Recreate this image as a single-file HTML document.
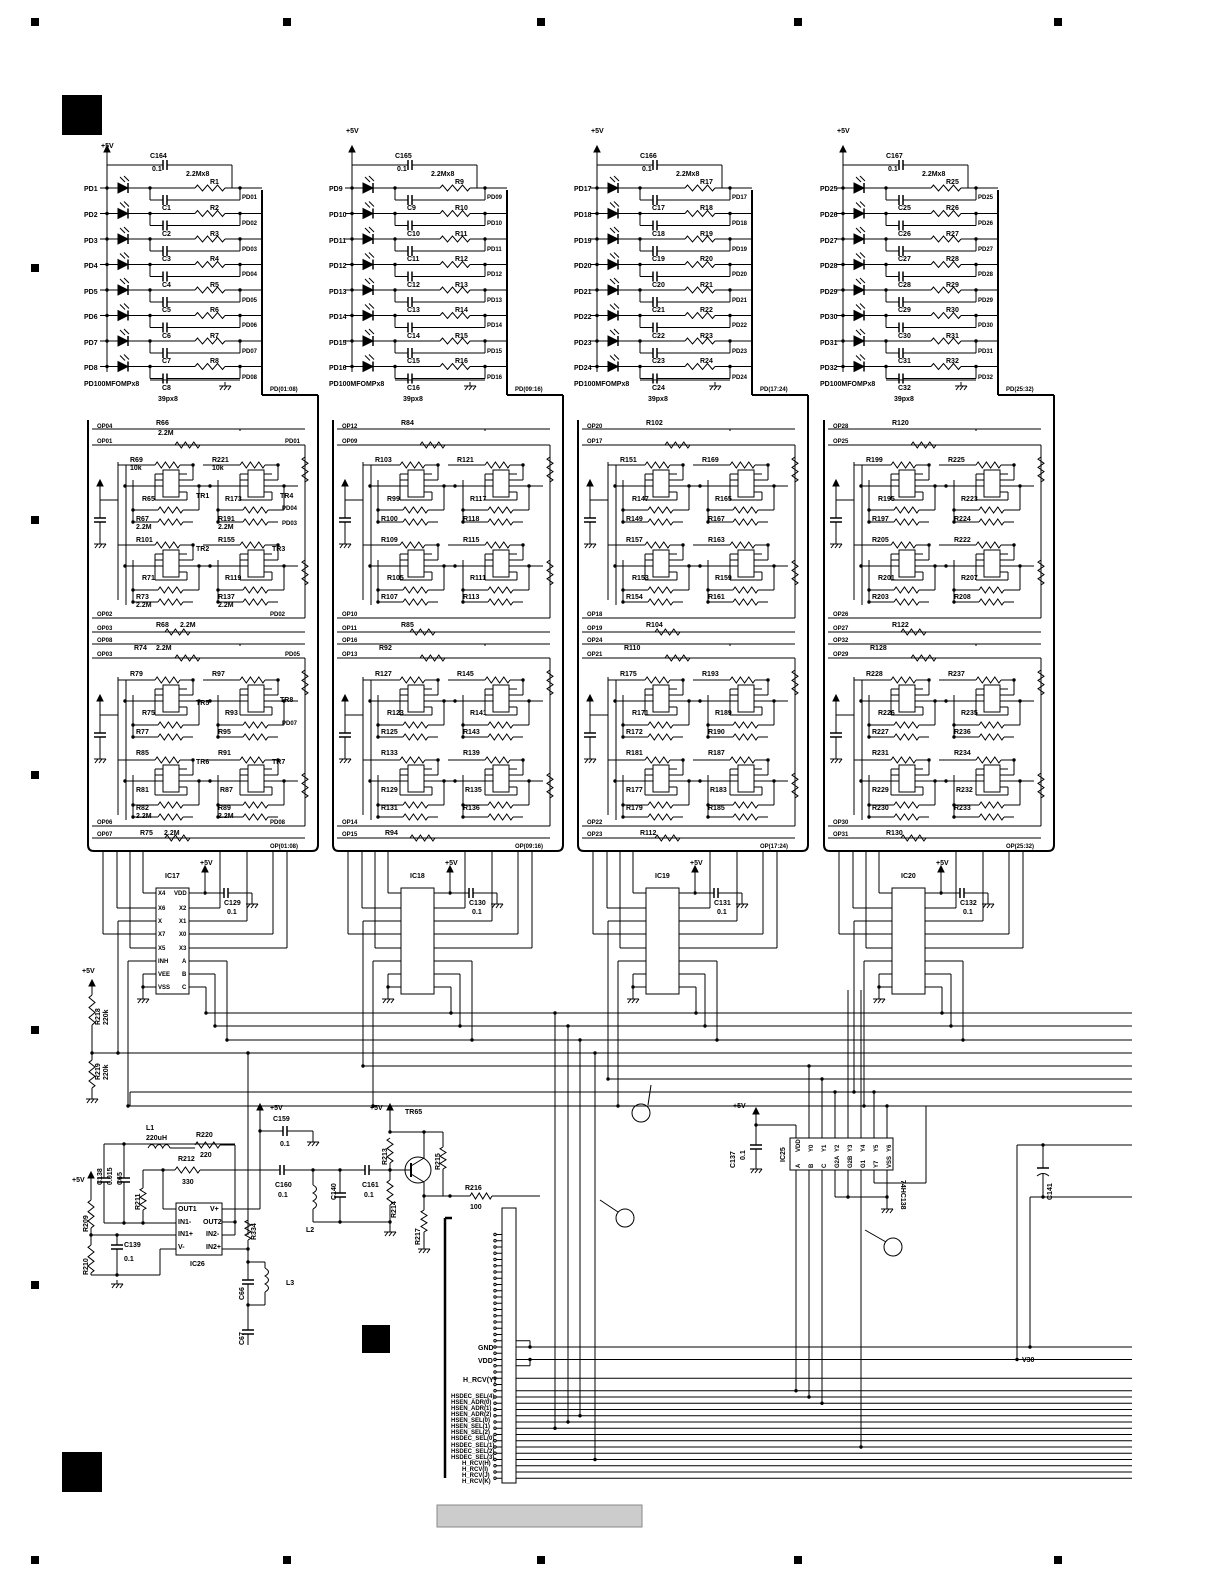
<!DOCTYPE html>
<html><head><meta charset="utf-8"><style>
html,body{margin:0;padding:0;background:#fff}
svg{display:block}
text{font-family:"Liberation Sans",sans-serif;font-size:7px;fill:#000;stroke:none;font-weight:bold}
.s{font-size:6px}
</style></head><body>
<svg id="s" width="1225" height="1585" viewBox="0 0 1225 1585" xmlns="http://www.w3.org/2000/svg" stroke="#000" fill="none" stroke-width="1">
<g id="geo"></g>
<g fill="#000" stroke="none">
<rect x="31" y="18" width="8" height="8"/><rect x="283" y="18" width="8" height="8"/><rect x="537" y="18" width="8" height="8"/><rect x="794" y="18" width="8" height="8"/><rect x="1054" y="18" width="8" height="8"/>
<rect x="31" y="1556" width="8" height="8"/><rect x="283" y="1556" width="8" height="8"/><rect x="537" y="1556" width="8" height="8"/><rect x="794" y="1556" width="8" height="8"/><rect x="1054" y="1556" width="8" height="8"/>
<rect x="31" y="264" width="8" height="8"/><rect x="31" y="516" width="8" height="8"/><rect x="31" y="771" width="8" height="8"/><rect x="31" y="1026" width="8" height="8"/><rect x="31" y="1281" width="8" height="8"/>
<rect x="62" y="95" width="40" height="40"/><rect x="62" y="1452" width="40" height="40"/><rect x="362" y="1325" width="28" height="28"/>
</g>
<rect x="437" y="1505" width="205" height="22" fill="#ccc" stroke="#888"/>

<g id="col1">
<text x="101" y="148">+5V</text><text x="150" y="158">C164</text><text x="152" y="171">0.1</text><text x="186" y="176">2.2Mx8</text>
<text x="84" y="191">PD1</text><text x="84" y="217">PD2</text><text x="84" y="243">PD3</text><text x="84" y="268">PD4</text><text x="84" y="294">PD5</text><text x="84" y="319">PD6</text><text x="84" y="345">PD7</text><text x="84" y="370">PD8</text>
<text x="210" y="184">R1</text><text x="210" y="210">R2</text><text x="210" y="236">R3</text><text x="210" y="261">R4</text><text x="210" y="287">R5</text><text x="210" y="312">R6</text><text x="210" y="338">R7</text><text x="210" y="363">R8</text>
<text x="162" y="210">C1</text><text x="162" y="236">C2</text><text x="162" y="261">C3</text><text x="162" y="287">C4</text><text x="162" y="312">C5</text><text x="162" y="338">C6</text><text x="162" y="363">C7</text><text x="162" y="390">C8</text>
<text class="s" x="242" y="199">PD01</text><text class="s" x="242" y="225">PD02</text><text class="s" x="242" y="251">PD03</text><text class="s" x="242" y="276">PD04</text><text class="s" x="242" y="302">PD05</text><text class="s" x="242" y="327">PD06</text><text class="s" x="242" y="353">PD07</text><text class="s" x="242" y="379">PD08</text>
<text x="84" y="386">PD100MFOMPx8</text><text x="158" y="401">39px8</text><text class="s" x="270" y="391">PD(01:08)</text>
<text class="s" x="97" y="428">OP04</text><text class="s" x="97" y="443">OP01</text><text class="s" x="97" y="616">OP02</text><text class="s" x="97" y="630">OP03</text>
<text class="s" x="97" y="642">OP08</text><text class="s" x="97" y="656">OP03</text><text class="s" x="97" y="824">OP06</text><text class="s" x="97" y="836">OP07</text>
<text class="s" x="285" y="443">PD01</text><text class="s" x="282" y="510">PD04</text><text class="s" x="282" y="525">PD03</text><text class="s" x="270" y="616">PD02</text>
<text class="s" x="285" y="656">PD05</text><text class="s" x="282" y="725">PD07</text><text class="s" x="270" y="824">PD08</text>
<text x="156" y="425">R66</text><text x="158" y="435">2.2M</text><text x="130" y="462">R69</text><text x="130" y="470">10k</text><text x="212" y="462">R221</text><text x="212" y="470">10k</text>
<text x="142" y="501">R65</text><text x="225" y="501">R173</text><text x="196" y="498">TR1</text><text x="280" y="498">TR4</text>
<text x="136" y="521">R67</text><text x="136" y="529">2.2M</text><text x="218" y="521">R191</text><text x="218" y="529">2.2M</text>
<text x="136" y="542">R101</text><text x="218" y="542">R155</text><text x="196" y="551">TR2</text><text x="272" y="551">TR3</text>
<text x="142" y="580">R71</text><text x="225" y="580">R119</text><text x="136" y="599">R73</text><text x="136" y="607">2.2M</text><text x="218" y="599">R137</text><text x="218" y="607">2.2M</text>
<text x="156" y="627">R68</text><text x="180" y="627">2.2M</text>
<text x="134" y="650">R74</text><text x="156" y="650">2.2M</text><text x="130" y="676">R79</text><text x="212" y="676">R97</text>
<text x="142" y="715">R75</text><text x="225" y="715">R93</text><text x="196" y="705">TR5</text><text x="280" y="702">TR8</text>
<text x="136" y="734">R77</text><text x="218" y="734">R95</text><text x="136" y="755">R85</text><text x="218" y="755">R91</text>
<text x="196" y="764">TR6</text><text x="272" y="764">TR7</text><text x="136" y="792">R81</text><text x="220" y="792">R87</text>
<text x="136" y="810">R82</text><text x="136" y="818">2.2M</text><text x="218" y="810">R89</text><text x="218" y="818">2.2M</text>
<text x="140" y="835">R75</text><text x="164" y="835">2.2M</text><text class="s" x="270" y="848">OP(01:08)</text>
<text x="165" y="878">IC17</text><text x="200" y="865">+5V</text><text x="224" y="905">C129</text><text x="227" y="914">0.1</text>
<text class="s" x="158" y="895">X4</text><text class="s" x="158" y="910">X6</text><text class="s" x="158" y="923">X</text><text class="s" x="158" y="936">X7</text><text class="s" x="158" y="950">X5</text><text class="s" x="158" y="963">INH</text><text class="s" x="158" y="976">VEE</text><text class="s" x="158" y="989">VSS</text>
<text class="s" x="174" y="895">VDD</text><text class="s" x="179" y="910">X2</text><text class="s" x="179" y="923">X1</text><text class="s" x="179" y="936">X0</text><text class="s" x="179" y="950">X3</text><text class="s" x="182" y="963">A</text><text class="s" x="182" y="976">B</text><text class="s" x="182" y="989">C</text>
</g>
<g transform="translate(245,0)">
<text x="101" y="133">+5V</text><text x="150" y="158">C165</text><text x="152" y="171">0.1</text><text x="186" y="176">2.2Mx8</text>
<text x="84" y="191">PD9</text><text x="84" y="217">PD10</text><text x="84" y="243">PD11</text><text x="84" y="268">PD12</text><text x="84" y="294">PD13</text><text x="84" y="319">PD14</text><text x="84" y="345">PD15</text><text x="84" y="370">PD16</text>
<text x="210" y="184">R9</text><text x="210" y="210">R10</text><text x="210" y="236">R11</text><text x="210" y="261">R12</text><text x="210" y="287">R13</text><text x="210" y="312">R14</text><text x="210" y="338">R15</text><text x="210" y="363">R16</text>
<text x="162" y="210">C9</text><text x="162" y="236">C10</text><text x="162" y="261">C11</text><text x="162" y="287">C12</text><text x="162" y="312">C13</text><text x="162" y="338">C14</text><text x="162" y="363">C15</text><text x="162" y="390">C16</text>
<text class="s" x="242" y="199">PD09</text><text class="s" x="242" y="225">PD10</text><text class="s" x="242" y="251">PD11</text><text class="s" x="242" y="276">PD12</text><text class="s" x="242" y="302">PD13</text><text class="s" x="242" y="327">PD14</text><text class="s" x="242" y="353">PD15</text><text class="s" x="242" y="379">PD16</text>
<text x="84" y="386">PD100MFOMPx8</text><text x="158" y="401">39px8</text><text class="s" x="270" y="391">PD(09:16)</text>
<text class="s" x="97" y="428">OP12</text><text class="s" x="97" y="443">OP09</text><text class="s" x="97" y="616">OP10</text><text class="s" x="97" y="630">OP11</text>
<text class="s" x="97" y="642">OP16</text><text class="s" x="97" y="656">OP13</text><text class="s" x="97" y="824">OP14</text><text class="s" x="97" y="836">OP15</text>
<text x="156" y="425">R84</text><text x="130" y="462">R103</text><text x="212" y="462">R121</text><text x="142" y="501">R99</text><text x="225" y="501">R117</text>
<text x="136" y="521">R100</text><text x="218" y="521">R118</text><text x="136" y="542">R109</text><text x="218" y="542">R115</text><text x="142" y="580">R105</text><text x="225" y="580">R111</text>
<text x="136" y="599">R107</text><text x="218" y="599">R113</text><text x="156" y="627">R85</text><text x="134" y="650">R92</text><text x="130" y="676">R127</text><text x="212" y="676">R145</text>
<text x="142" y="715">R123</text><text x="225" y="715">R141</text><text x="136" y="734">R125</text><text x="218" y="734">R143</text><text x="136" y="755">R133</text><text x="218" y="755">R139</text>
<text x="136" y="792">R129</text><text x="220" y="792">R135</text><text x="136" y="810">R131</text><text x="218" y="810">R136</text><text x="140" y="835">R94</text><text class="s" x="270" y="848">OP(09:16)</text>
<text x="165" y="878">IC18</text><text x="200" y="865">+5V</text><text x="224" y="905">C130</text><text x="227" y="914">0.1</text>
</g>
<g transform="translate(490,0)">
<text x="101" y="133">+5V</text><text x="150" y="158">C166</text><text x="152" y="171">0.1</text><text x="186" y="176">2.2Mx8</text>
<text x="84" y="191">PD17</text><text x="84" y="217">PD18</text><text x="84" y="243">PD19</text><text x="84" y="268">PD20</text><text x="84" y="294">PD21</text><text x="84" y="319">PD22</text><text x="84" y="345">PD23</text><text x="84" y="370">PD24</text>
<text x="210" y="184">R17</text><text x="210" y="210">R18</text><text x="210" y="236">R19</text><text x="210" y="261">R20</text><text x="210" y="287">R21</text><text x="210" y="312">R22</text><text x="210" y="338">R23</text><text x="210" y="363">R24</text>
<text x="162" y="210">C17</text><text x="162" y="236">C18</text><text x="162" y="261">C19</text><text x="162" y="287">C20</text><text x="162" y="312">C21</text><text x="162" y="338">C22</text><text x="162" y="363">C23</text><text x="162" y="390">C24</text>
<text class="s" x="242" y="199">PD17</text><text class="s" x="242" y="225">PD18</text><text class="s" x="242" y="251">PD19</text><text class="s" x="242" y="276">PD20</text><text class="s" x="242" y="302">PD21</text><text class="s" x="242" y="327">PD22</text><text class="s" x="242" y="353">PD23</text><text class="s" x="242" y="379">PD24</text>
<text x="84" y="386">PD100MFOMPx8</text><text x="158" y="401">39px8</text><text class="s" x="270" y="391">PD(17:24)</text>
<text class="s" x="97" y="428">OP20</text><text class="s" x="97" y="443">OP17</text><text class="s" x="97" y="616">OP18</text><text class="s" x="97" y="630">OP19</text>
<text class="s" x="97" y="642">OP24</text><text class="s" x="97" y="656">OP21</text><text class="s" x="97" y="824">OP22</text><text class="s" x="97" y="836">OP23</text>
<text x="156" y="425">R102</text><text x="130" y="462">R151</text><text x="212" y="462">R169</text><text x="142" y="501">R147</text><text x="225" y="501">R165</text>
<text x="136" y="521">R149</text><text x="218" y="521">R167</text><text x="136" y="542">R157</text><text x="218" y="542">R163</text><text x="142" y="580">R153</text><text x="225" y="580">R159</text>
<text x="136" y="599">R154</text><text x="218" y="599">R161</text><text x="156" y="627">R104</text><text x="134" y="650">R110</text><text x="130" y="676">R175</text><text x="212" y="676">R193</text>
<text x="142" y="715">R171</text><text x="225" y="715">R189</text><text x="136" y="734">R172</text><text x="218" y="734">R190</text><text x="136" y="755">R181</text><text x="218" y="755">R187</text>
<text x="136" y="792">R177</text><text x="220" y="792">R183</text><text x="136" y="810">R179</text><text x="218" y="810">R185</text><text x="150" y="835">R112</text><text class="s" x="270" y="848">OP(17:24)</text>
<text x="165" y="878">IC19</text><text x="200" y="865">+5V</text><text x="224" y="905">C131</text><text x="227" y="914">0.1</text>
</g>
<g transform="translate(736,0)">
<text x="101" y="133">+5V</text><text x="150" y="158">C167</text><text x="152" y="171">0.1</text><text x="186" y="176">2.2Mx8</text>
<text x="84" y="191">PD25</text><text x="84" y="217">PD26</text><text x="84" y="243">PD27</text><text x="84" y="268">PD28</text><text x="84" y="294">PD29</text><text x="84" y="319">PD30</text><text x="84" y="345">PD31</text><text x="84" y="370">PD32</text>
<text x="210" y="184">R25</text><text x="210" y="210">R26</text><text x="210" y="236">R27</text><text x="210" y="261">R28</text><text x="210" y="287">R29</text><text x="210" y="312">R30</text><text x="210" y="338">R31</text><text x="210" y="363">R32</text>
<text x="162" y="210">C25</text><text x="162" y="236">C26</text><text x="162" y="261">C27</text><text x="162" y="287">C28</text><text x="162" y="312">C29</text><text x="162" y="338">C30</text><text x="162" y="363">C31</text><text x="162" y="390">C32</text>
<text class="s" x="242" y="199">PD25</text><text class="s" x="242" y="225">PD26</text><text class="s" x="242" y="251">PD27</text><text class="s" x="242" y="276">PD28</text><text class="s" x="242" y="302">PD29</text><text class="s" x="242" y="327">PD30</text><text class="s" x="242" y="353">PD31</text><text class="s" x="242" y="379">PD32</text>
<text x="84" y="386">PD100MFOMPx8</text><text x="158" y="401">39px8</text><text class="s" x="270" y="391">PD(25:32)</text>
<text class="s" x="97" y="428">OP28</text><text class="s" x="97" y="443">OP25</text><text class="s" x="97" y="616">OP26</text><text class="s" x="97" y="630">OP27</text>
<text class="s" x="97" y="642">OP32</text><text class="s" x="97" y="656">OP29</text><text class="s" x="97" y="824">OP30</text><text class="s" x="97" y="836">OP31</text>
<text x="156" y="425">R120</text><text x="130" y="462">R199</text><text x="212" y="462">R225</text><text x="142" y="501">R195</text><text x="225" y="501">R223</text>
<text x="136" y="521">R197</text><text x="218" y="521">R224</text><text x="136" y="542">R205</text><text x="218" y="542">R222</text><text x="142" y="580">R201</text><text x="225" y="580">R207</text>
<text x="136" y="599">R203</text><text x="218" y="599">R208</text><text x="156" y="627">R122</text><text x="134" y="650">R128</text><text x="130" y="676">R228</text><text x="212" y="676">R237</text>
<text x="142" y="715">R226</text><text x="225" y="715">R235</text><text x="136" y="734">R227</text><text x="218" y="734">R236</text><text x="136" y="755">R231</text><text x="218" y="755">R234</text>
<text x="136" y="792">R229</text><text x="220" y="792">R232</text><text x="136" y="810">R230</text><text x="218" y="810">R233</text><text x="150" y="835">R130</text><text class="s" x="270" y="848">OP(25:32)</text>
<text x="165" y="878">IC20</text><text x="200" y="865">+5V</text><text x="224" y="905">C132</text><text x="227" y="914">0.1</text>
</g>
<g>
<text x="82" y="973">+5V</text>
<text transform="translate(100,1025) rotate(-90)">R218</text><text transform="translate(108,1025) rotate(-90)">220k</text>
<text transform="translate(100,1080) rotate(-90)">R219</text><text transform="translate(108,1080) rotate(-90)">220k</text>
<text x="146" y="1130">L1</text><text x="146" y="1140">220uH</text><text x="196" y="1137">R220</text><text x="200" y="1157">220</text>
<text x="178" y="1161">R212</text><text x="182" y="1184">330</text><text x="270" y="1110">+5V</text><text x="273" y="1121">C159</text><text x="280" y="1146">0.1</text>
<text x="275" y="1187">C160</text><text x="278" y="1197">0.1</text><text x="306" y="1232">L2</text><text x="362" y="1187">C161</text><text x="364" y="1197">0.1</text>
<text x="370" y="1110">+5V</text><text x="405" y="1114">TR65</text><text x="465" y="1190">R216</text><text x="470" y="1209">100</text>
<text x="72" y="1182">+5V</text><text x="178" y="1211">OUT1</text><text x="178" y="1224">IN1-</text><text x="178" y="1236">IN1+</text><text x="178" y="1249">V-</text>
<text x="210" y="1211">V+</text><text x="203" y="1224">OUT2</text><text x="206" y="1236">IN2-</text><text x="206" y="1249">IN2+</text><text x="190" y="1266">IC26</text>
<text x="124" y="1247">C139</text><text x="124" y="1261">0.1</text><text x="286" y="1285">L3</text>
<text transform="translate(102,1185) rotate(-90)">C138</text><text transform="translate(112,1185) rotate(-90)">0.015</text><text transform="translate(122,1185) rotate(-90)">C65</text>
<text transform="translate(88,1232) rotate(-90)">R209</text><text transform="translate(88,1275) rotate(-90)">R210</text><text transform="translate(140,1210) rotate(-90)">R211</text>
<text transform="translate(387,1165) rotate(-90)">R213</text><text transform="translate(396,1218) rotate(-90)">R214</text><text transform="translate(440,1170) rotate(-90)">R215</text><text transform="translate(420,1245) rotate(-90)">R217</text>
<text transform="translate(256,1240) rotate(-90)">R334</text><text transform="translate(244,1300) rotate(-90)">C66</text><text transform="translate(244,1345) rotate(-90)">C67</text><text transform="translate(336,1200) rotate(-90)">C140</text>
<text x="733" y="1108">+5V</text><text transform="translate(735,1168) rotate(-90)">C137</text><text transform="translate(745,1160) rotate(-90)">0.1</text>
<text transform="translate(901,1180) rotate(90)">74HC138</text><text transform="translate(785,1162) rotate(-90)">IC25</text>
<text class="s" transform="translate(800,1152) rotate(-90)">VDD</text><text class="s" transform="translate(813,1152) rotate(-90)">Y0</text><text class="s" transform="translate(826,1152) rotate(-90)">Y1</text><text class="s" transform="translate(839,1152) rotate(-90)">Y2</text><text class="s" transform="translate(852,1152) rotate(-90)">Y3</text><text class="s" transform="translate(865,1152) rotate(-90)">Y4</text><text class="s" transform="translate(878,1152) rotate(-90)">Y5</text><text class="s" transform="translate(891,1152) rotate(-90)">Y6</text>
<text class="s" transform="translate(800,1168) rotate(-90)">A</text><text class="s" transform="translate(813,1168) rotate(-90)">B</text><text class="s" transform="translate(826,1168) rotate(-90)">C</text><text class="s" transform="translate(839,1168) rotate(-90)">G2A</text><text class="s" transform="translate(852,1168) rotate(-90)">G2B</text><text class="s" transform="translate(865,1168) rotate(-90)">G1</text><text class="s" transform="translate(878,1168) rotate(-90)">Y7</text><text class="s" transform="translate(891,1168) rotate(-90)">VSS</text>
<text transform="translate(1052,1200) rotate(-90)">C141</text>
<text x="1022" y="1362">V30</text>
<text x="478" y="1350">GND</text><text x="478" y="1363">VDD</text><text x="463" y="1382">H_RCV(Y)</text>
<text class="s" x="451" y="1398">HSDEC_SEL(4)</text><text class="s" x="451" y="1404">HSEN_ADR(0)</text><text class="s" x="451" y="1410">HSEN_ADR(1)</text><text class="s" x="451" y="1416">HSEN_ADR(2)</text><text class="s" x="451" y="1422">HSEN_SEL(0)</text><text class="s" x="451" y="1428">HSEN_SEL(1)</text><text class="s" x="451" y="1434">HSEN_SEL(2)</text><text class="s" x="451" y="1440">HSDEC_SEL(0)</text><text class="s" x="451" y="1447">HSDEC_SEL(1)</text><text class="s" x="451" y="1453">HSDEC_SEL(2)</text><text class="s" x="451" y="1459">HSDEC_SEL(3)</text><text class="s" x="462" y="1465">H_RCV(H)</text><text class="s" x="462" y="1471">H_RCV(I)</text><text class="s" x="462" y="1477">H_RCV(J)</text><text class="s" x="462" y="1483">H_RCV(K)</text>
</g>
<g id="pins"></g>
</svg>
<script>
(function(){
var h='';
function L(a,b,c,d,w){h+='<line x1="'+a+'" y1="'+b+'" x2="'+c+'" y2="'+d+'"'+(w?' stroke-width="'+w+'"':'')+'/>';}
function P(d,w){h+='<path d="'+d+'"'+(w?' stroke-width="'+w+'"':'')+'/>';}
function R(x,y,w,hh){h+='<rect x="'+x+'" y="'+y+'" width="'+w+'" height="'+hh+'"/>';}
function Z(x,y,len){var d='M'+x+' '+y,n=6,s=len/n;for(var i=0;i<n;i++)d+=' L'+(x+s*(i+.5)).toFixed(1)+' '+(y+(i%2?3:-3));d+=' L'+(x+len)+' '+y;P(d);}
function ZV(x,y,len){var d='M'+x+' '+y,n=6,s=len/n;for(var i=0;i<n;i++)d+=' L'+(x+(i%2?3:-3))+' '+(y+s*(i+.5)).toFixed(1);d+=' L'+x+' '+(y+len);P(d);}
function C(x,y){L(x,y-5,x,y+5,1.5);L(x+4,y-5,x+4,y+5,1.5);}
function CV(x,y){L(x-6,y,x+6,y,1.5);L(x-6,y+4,x+6,y+4,1.5);}
function G(x,y){L(x,y,x,y+4);L(x-6,y+4,x+6,y+4);L(x-5,y+8,x-2,y+4);L(x-1,y+8,x+2,y+4);L(x+3,y+8,x+6,y+4);}
function A(x,y){h+='<path d="M'+(x-3)+' '+(y+6)+' L'+x+' '+y+' L'+(x+3)+' '+(y+6)+'Z" fill="#000"/>';}
function D(x,y){h+='<circle cx="'+x+'" cy="'+y+'" r="1.7" fill="#000" stroke="none"/>';}
function IND(x,y,len){var d='M'+x+' '+y;for(var i=0;i<3;i++)d+=' q4 -7 '+(len/3)+' 0';P(d);}
function INDV(x,y,len){var d='M'+x+' '+y;for(var i=0;i<3;i++)d+=' q7 4 0 '+(len/3);P(d);}
var OX=[0,245,490,736];
var XY=[1053,1066,1079,1092];
OX.forEach(function(o,k){
 A(107+o,146);L(107+o,152,107+o,372);
 L(107+o,165,163+o,165);C(163+o,165);L(167+o,165,232+o,165);L(232+o,165,232+o,188);
 for(var i=0;i<8;i++){var y=188+25.5*i;
  L(100+o,y,118+o,y);
  h+='<path d="M'+(118+o)+' '+(y-5)+' L'+(118+o)+' '+(y+5)+' L'+(128+o)+' '+y+'Z" fill="#000"/>';L(128+o,y-5,128+o,y+5,1.5);
  L(120+o,y-11,125+o,y-6);L(124+o,y-12,129+o,y-7);
  L(128+o,y,195+o,y);Z(195+o,y,30);L(225+o,y,262+o,y);D(107+o,y);
  L(150+o,y,150+o,y+12);L(150+o,y+12,163+o,y+12);C(163+o,y+12);L(167+o,y+12,240+o,y+12);L(240+o,y,240+o,y+12);D(150+o,y);D(240+o,y);
 }
 L(150+o,380,240+o,380);G(225+o,382);
 L(262+o,190,262+o,395,2);L(262+o,395,318+o,395,2);L(318+o,395,318+o,845,2);
 P('M'+(88+o)+' 420 L'+(88+o)+' 845 Q'+(88+o)+' 851 '+(94+o)+' 851 L'+(312+o)+' 851 Q'+(318+o)+' 851 '+(318+o)+' 845',2);
 // sub-block lines
 [[429,445,618,632],[644,658,826,838]].forEach(function(ys,si){
  ys.forEach(function(y){L(92+o,y,305+o,y);});
  L(305+o,ys[1],305+o,ys[2]);
  ZV(305+o,ys[1]+12,25);ZV(305+o,ys[1]+115,25);
  Z(175+o,ys[1],25);Z(165+o,ys[3],25);
  L(240+o,ys[0],240+o,ys[0]+2);
 });
 [[470,550],[685,765]].forEach(function(rows,si){
  var yb=rows[0];
  A(100+o,yb+10);L(100+o,yb+16,100+o,yb+30);L(100+o,yb+30,118+o,yb+30);
  CV(100+o,yb+48);L(100+o,yb+30,100+o,yb+48);L(100+o,yb+52,100+o,yb+70);G(100+o,yb+70);
  L(118+o,yb-8,118+o,rows[1]+50);L(126+o,yb-5,126+o,rows[1]+55);
  rows.forEach(function(y0){
   [163,248].forEach(function(cx){
    var x=cx+o;
    R(x,y0,16,27);
    for(var p=0;p<3;p++){L(x-8,y0+4+p*6,x,y0+4+p*6);}
    for(var p=0;p<4;p++){L(x+16,y0+4+p*6,x+24,y0+4+p*6);}
    L(x-8,y0+4,x-8,y0+30);L(x-8,y0+30,x+24,y0+30);L(x+24,y0+22,x+24,y0+30);
    L(x-45,y0-5,x-8,y0-5);Z(x-8,y0-5,25);L(x+17,y0-5,x+30,y0-5);L(x+30,y0-5,x+30,y0+10);L(x+24,y0+10,x+30,y0+10);D(x+30,y0-5);
    L(x-38,y0+16,x-8,y0+16);D(x-38+(cx==163?0:0),y0+16);
    L(x-30,y0+40,x-5,y0+40);Z(x-5,y0+40,25);L(x+20,y0+40,x+36,y0+40);L(x+36,y0+16,x+36,y0+40);L(x+24,y0+16,x+50,y0+16);D(x+36,y0+16);
    L(x-30,y0+52,x-5,y0+52);Z(x-5,y0+52,25);L(x+20,y0+52,x+30,y0+52);L(x-30,y0+10,x-30,y0+52);D(x-30,y0+40);D(x-30,y0+52);
   });
  });
 });
 // IC section
 var vx=[103,117,130,143,220,247,273,287];
 vx.forEach(function(x){L(x+o,851,x+o,878);});
 R(156+o,888,33,106);
 var py=[893,908,921,934,948,961,974,987];
 py.forEach(function(y){L(143+o,y,156+o,y);L(189+o,y,203+o,y);});
 L(143+o,878,143+o,893);
 L(117+o,878,117+o,908);L(117+o,908,143+o,908);
 L(103+o,878,103+o,934);L(103+o,934,143+o,934);
 L(130+o,878,130+o,948);L(130+o,948,143+o,948);
 L(220+o,878,220+o,908);L(203+o,908,220+o,908);
 L(247+o,878,247+o,921);L(203+o,921,247+o,921);
 L(273+o,878,273+o,934);L(203+o,934,273+o,934);
 L(287+o,878,287+o,948);L(203+o,948,287+o,948);
 A(205+o,866);L(205+o,872,205+o,893);D(205+o,893);L(205+o,893,224+o,893);C(224+o,893);L(228+o,893,252+o,893);L(252+o,893,252+o,900);G(252+o,900);
 L(143+o,921,118+o,921);L(118+o,921,118+o,XY[k]);D(118+o,XY[k]);
 L(143+o,961,128+o,961);L(128+o,961,128+o,1106);D(128+o,1106);
 L(143+o,974,143+o,995);D(143+o,987);G(143+o,995);
 L(203+o,961,227+o,961);L(227+o,961,227+o,1040);D(227+o,1040);
 L(203+o,974,215+o,974);L(215+o,974,215+o,1026);D(215+o,1026);
 L(203+o,987,206+o,987);L(206+o,987,206+o,1013);D(206+o,1013);
});
// bus lines
L(206,1013,1132,1013);L(215,1026,1132,1026);L(227,1040,1132,1040);
L(92,1053,1132,1053);D(92,1053);L(118+245,1066,1132,1066);L(118+490,1079,1132,1079);L(118+736,1092,1132,1092);L(128,1106,1132,1106);
// R218/R219
A(92,980);L(92,986,92,995);ZV(92,995,30);L(92,1025,92,1053);L(92,1053,92,1060);ZV(92,1060,28);L(92,1088,92,1095);G(92,1095);
// verticals to connector
var pinY=function(n){return 1347+(n-19)*6.25;};
L(555,1013,555,pinY(32));D(555,1013);D(555,pinY(32));
L(568,1026,568,pinY(31));D(568,1026);D(568,pinY(31));
L(580,1040,580,pinY(30));D(580,1040);D(580,pinY(30));
L(595,1053,595,pinY(37));D(595,1053);D(595,pinY(37));
L(248,1053,248,1218);D(248,1053);
// IC25
R(790,1138,103,32);
for(var p=0;p<8;p++){var x=796+p*13;L(x,1130,x,1138);L(x,1170,x,1178);}
A(756,1108);L(756,1114,756,1125);D(756,1125);L(756,1125,796,1125);L(796,1125,796,1130);L(756,1125,756,1145);CV(756,1145);L(756,1149,756,1165);G(756,1165);
L(809,1066,809,1130);L(822,1079,822,1130);L(835,1092,835,1130);L(848,990,848,1130);L(861,990,861,1130);L(874,1092,874,1130);L(887,1106,887,1130);
L(835,1178,835,1197);L(835,1197,887,1197);L(848,1178,848,1197);D(848,1197);L(887,1178,887,1205);D(887,1197);G(887,1205);
L(874,1178,874,1183);L(874,1183,926,1183);L(926,1183,926,1106);
L(796,1178,796,pinY(26));D(796,pinY(26));L(809,1178,809,pinY(27));D(809,pinY(27));L(822,1178,822,pinY(28));D(822,pinY(28));
L(861,1178,861,pinY(35));D(861,pinY(35));
[809,822].forEach(function(x){});
D(809,1066);D(822,1079);D(835,1092);D(874,1092);D(887,1106);
// C141 area
L(1017,1145,1132,1145);L(1030,1197,1132,1197);D(1043,1145);D(1043,1197);L(1043,1145,1043,1168);L(1043,1174,1043,1197);
L(1037,1168,1049,1168,1.5);P('M1037 1176 Q1043 1171 1049 1176');
L(1017,1145,1017,pinY(21));D(1017,pinY(21));L(1030,1197,1030,pinY(19));D(1030,pinY(19));
// bottom-left circuit
L(130,1092,1132,1092);L(130,1106,130,1092);
A(91,1172);L(91,1178,91,1200);ZV(91,1200,28);L(91,1228,91,1235);D(91,1235);L(91,1235,91,1245);ZV(91,1245,28);L(91,1273,91,1275);L(91,1275,117,1275);D(117,1275);G(117,1280);
L(104,1144,235,1144);D(124,1144);L(104,1144,104,1178);CV(104,1178);L(104,1182,104,1223);L(124,1144,124,1178);CV(124,1178);L(124,1182,124,1223);
L(104,1223,176,1223);D(124,1223);D(143,1223);
IND(148,1148,22);L(170,1148,195,1148);Z(195,1145,25);L(220,1145,235,1145);L(235,1145,235,1235);L(222,1235,235,1235);L(222,1222,235,1222);D(235,1222);
L(143,1170,175,1170);Z(175,1170,25);L(200,1170,272,1170);D(163,1170);L(143,1170,143,1188);ZV(143,1188,22);L(143,1210,143,1223);
L(163,1170,163,1209);L(163,1209,176,1209);
L(91,1235,176,1235);D(117,1235);L(117,1235,117,1245);CV(117,1245);L(117,1249,117,1275);L(117,1275,160,1275);L(160,1275,160,1249);L(160,1249,176,1249);
R(176,1203,46,52);L(222,1209,260,1209);
A(260,1104);L(260,1110,260,1209);D(260,1131);L(260,1131,283,1131);C(283,1131);L(287,1131,313,1131);L(313,1131,313,1138);G(313,1138);
L(248,1218,248,1235);ZV(248,1220,20);L(222,1249,248,1249);D(248,1249);L(248,1240,248,1262);D(248,1262);L(248,1262,248,1280);CV(248,1280);L(248,1284,248,1305);D(248,1305);
L(248,1262,265,1262);INDV(265,1268,24);L(265,1262,265,1268);L(265,1292,265,1305);L(248,1305,265,1305);L(248,1305,248,1330);CV(248,1330);L(248,1334,248,1345);
L(272,1170,280,1170);C(280,1170);L(284,1170,365,1170);D(313,1170);D(340,1170);C(365,1170);L(369,1170,405,1170);
L(313,1170,313,1185);INDV(313,1185,24);L(313,1209,313,1222);L(340,1170,340,1193);CV(340,1193);L(340,1197,340,1222);L(313,1222,390,1222);D(340,1222);D(390,1222);
A(390,1104);L(390,1110,390,1132);D(390,1132);L(390,1132,443,1132);D(424,1132);ZV(390,1138,25);L(390,1163,390,1170);D(390,1170);ZV(390,1180,25);L(390,1170,390,1180);L(390,1205,390,1228);G(390,1228);
h+='<circle cx="418" cy="1170" r="13"/>';L(411,1163,411,1177,2);L(405,1170,411,1170);L(411,1166,424,1158);L(411,1174,424,1182);L(424,1158,424,1132);
L(424,1182,424,1196);D(424,1196);L(424,1196,470,1196);D(450,1196);Z(470,1196,22);L(492,1196,540,1196);
L(443,1132,443,1147);ZV(443,1147,22);L(443,1169,443,1196);
L(424,1196,424,1210);ZV(424,1210,22);L(424,1232,424,1245);G(424,1245);
// test circles
h+='<circle cx="641" cy="1113" r="9"/><circle cx="625" cy="1218" r="9"/><circle cx="893" cy="1247" r="9"/>';
L(648,1105,651,1085);L(600,1200,618,1212);L(865,1230,886,1242);
// connector
L(445,1218,445,1478,2.5);L(445,1218,452,1218,2.5);
R(502,1208,14,275);
for(var n=1;n<=40;n++){var y=pinY(n);L(496,y,502,y);h+='<circle cx="495" cy="'+y+'" r="1.2"/>';}
L(516,pinY(18),530,pinY(18));L(530,pinY(18),530,pinY(19));D(530,pinY(19));L(516,pinY(19),1132,pinY(19));
L(516,pinY(21),1132,pinY(21));D(530,pinY(21));L(516,pinY(22),530,pinY(22));L(530,pinY(21),530,pinY(22));
L(516,pinY(24),1132,pinY(24));
for(var n=26;n<=40;n++){L(516,pinY(n),1132,pinY(n));}
document.getElementById('geo').innerHTML='';
var g=document.getElementById('geo');
var tmp=new DOMParser().parseFromString('<svg xmlns="http://www.w3.org/2000/svg">'+h+'</svg>','image/svg+xml');
var kids=tmp.documentElement.childNodes;
while(kids.length){g.appendChild(document.importNode(kids[0],true));tmp.documentElement.removeChild(kids[0]);}
})();
</script>
</body></html>
